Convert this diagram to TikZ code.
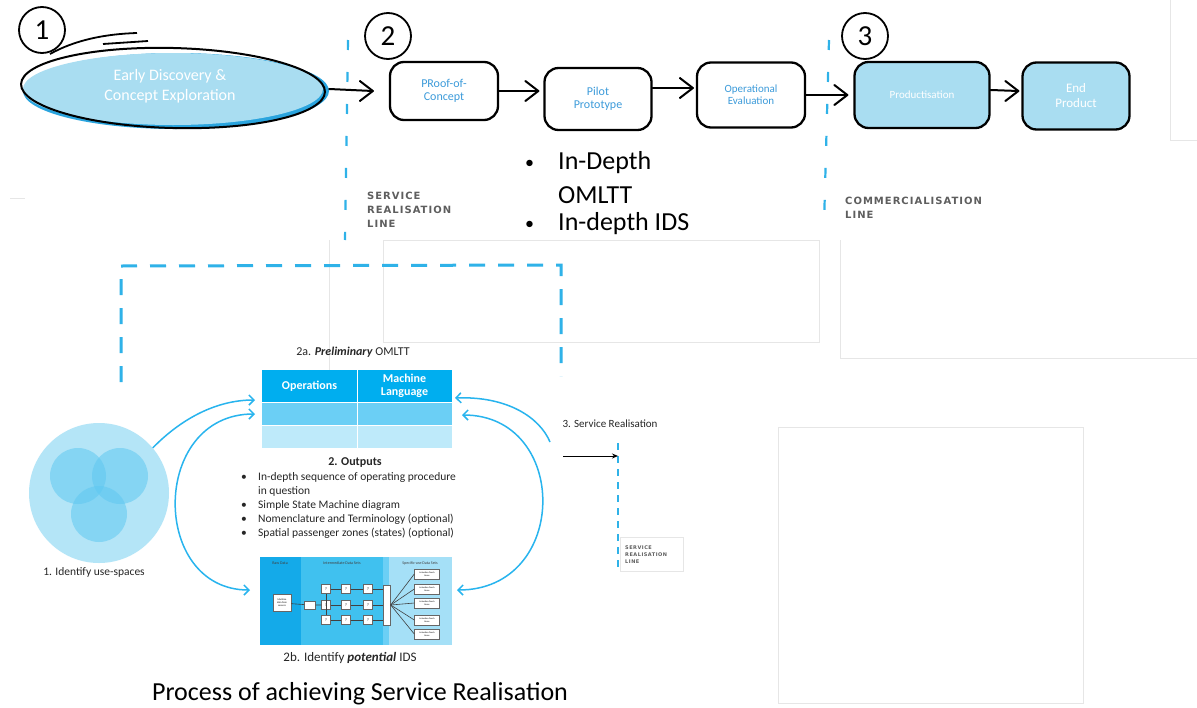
\documentclass[tikz,border=0pt]{standalone}
\usepackage{fontspec}
\setmainfont{Carlito}
\newfontfamily\capsfont[LetterSpace=10]{DejaVu Sans}
\usetikzlibrary{arrows.meta,shapes.geometric}
\definecolor{lightfill}{HTML}{A9DDF1}
\definecolor{edgeblue}{HTML}{2AA4DE}
\definecolor{txtblue}{HTML}{3C9BDA}
\definecolor{dashblue}{HTML}{2FB2E8}
\definecolor{arrowblue}{HTML}{28B4EE}
\definecolor{hdrblue}{HTML}{00AEEF}
\definecolor{rowblue}{HTML}{6BCFF5}
\definecolor{rowpale}{HTML}{BEEAFA}
\definecolor{capgray}{HTML}{5E5E5E}
\definecolor{faint}{HTML}{E6E6E6}
\definecolor{rawblue}{HTML}{14AAE9}
\definecolor{midblue}{HTML}{40C1EF}
\definecolor{specblue}{HTML}{A5E0F7}
\definecolor{vennbig}{HTML}{B4E5F7}
\definecolor{vennsmall}{HTML}{5FC8F1}
\begin{document}
\begin{tikzpicture}[x=1pt,y=-1pt,
  stagebox/.style={draw=black, line width=2.3pt, rounded corners=14pt, fill=white, text=txtblue, align=center, inner sep=0pt, font=\fontsize{12}{13}\selectfont},
  prodbox/.style={stagebox, fill=lightfill, text=white},
  handline/.style={line width=2pt, line cap=round, line join=round},
  numcircle/.style={circle, draw, line width=1.8pt, minimum size=46pt, inner sep=0pt, font=\fontsize{29}{29}\selectfont},
  vdash/.style={draw=dashblue, line width=2.2pt, dash pattern=on 10pt off 22pt},
  capstext/.style={font=\capsfont\bfseries\fontsize{10}{14}\selectfont, text=capgray, align=left, anchor=north west, inner sep=0pt},
  bluearrow/.style={draw=arrowblue, line width=1.5pt, -{Straight Barb[length=5pt,width=10pt]}},
  bluedouble/.style={draw=arrowblue, line width=1.5pt, {Straight Barb[length=5pt,width=10pt]}-{Straight Barb[length=5pt,width=10pt]}},
  smalltext/.style={font=\fontsize{12}{14}\selectfont, text=black!85, inner sep=0pt},
  faintline/.style={draw=faint, line width=0.8pt},
  cell/.style={minimum width=95pt, inner sep=0pt, text=white, align=center, font=\bfseries\fontsize{12}{13}\selectfont},
  tinybox/.style={draw=black!60, fill=white, line width=0.4pt, inner sep=0pt, align=center, font=\fontsize{2.5}{3}\selectfont},
  qbox/.style={draw=black!60, fill=white, line width=0.4pt, inner sep=0pt, minimum width=9pt, minimum height=9pt, font=\fontsize{4}{4}\selectfont},
  idsline/.style={draw=black!75, line width=0.6pt},
  bigtext/.style={anchor=west, font=\fontsize{26}{28}\selectfont, inner sep=0pt},
  bigbullet/.style={anchor=west, font=\fontsize{18}{20}\selectfont, inner sep=0pt}
]
\useasboundingbox (0,0) rectangle (1197,707);
\fill[white] (0,0) rectangle (1197,707);

% faint background artefacts
\draw[faintline] (1170,0) -- (1170,140) -- (1197,140);
\draw[faintline] (10,198) -- (25,198);
\draw[faintline] (329,240) -- (329,420);
\draw[faintline] (383,240) rectangle (819,342);
\draw[faintline] (840,240) -- (840,358) -- (1197,358);
\draw[faintline] (778,427) rectangle (1083,703);
\draw[faintline] (620,537) rectangle (683,571);

% ---------- stage 1 ----------
\node[numcircle] (n1) at (42,30) {1};
\node[ellipse, fill=edgeblue, minimum width=306pt, minimum height=76pt, inner sep=0pt] (ellb) at (176,91) {};
\node[ellipse, fill=lightfill, minimum width=300pt, minimum height=72pt, inner sep=0pt] (ell) at (173,89) {};
\node[ellipse, draw=black, line width=2pt, rotate=-1.5, minimum width=304pt, minimum height=80pt, inner sep=0pt] (ello) at (173,88) {};
\node[text=white, align=center, font=\fontsize{16}{20}\selectfont] (elltxt) at (170,86) {Early Discovery \&\\Concept Exploration};
\draw[line width=1.8pt] (50,54) .. controls (75,40) and (105,34) .. (137,33);
\draw[line width=1.8pt] (103,44) -- (148,41);

% ---------- stage 2 ----------
\node[numcircle] (n2) at (388,36) {2};
\node[stagebox, minimum width=108pt, minimum height=58pt] (poc) at (444,91) {PRoof-of-\\Concept};
\node[stagebox, minimum width=107pt, minimum height=62pt] (pilot) at (598,99) {Pilot\\Prototype};
\node[stagebox, minimum width=108pt, minimum height=65pt, font=\fontsize{11}{12}\selectfont] (opeval) at (751,95) {Operational\\Evaluation};

% ---------- stage 3 ----------
\node[numcircle] (n3) at (865,36) {3};
\node[prodbox, minimum width=135pt, minimum height=66pt, font=\fontsize{11}{12}\selectfont] (prod) at (922,95) {Productisation};
\node[prodbox, minimum width=107pt, minimum height=67pt, font=\fontsize{13}{15}\selectfont] (endp) at (1076,96) {End\\Product};

% hand-drawn arrows (line + chevron head)
\coordinate (a1s) at ([xshift=6pt]ell.east);
\coordinate (a1e) at ([xshift=-16pt]poc.west);
\coordinate (a2e) at ([xshift=-5pt]pilot.west |- poc.east);
\coordinate (a3s) at ([yshift=11pt]pilot.east);
\coordinate (a3e) at ([xshift=-3pt]opeval.west |- a3s);
\coordinate (a4e) at ([xshift=-6pt]prod.west);
\coordinate (a5s) at ([yshift=5pt]prod.east);
\coordinate (a5e) at ([yshift=5pt,xshift=-3pt]endp.west);
\draw[handline] (a1s) -- (a1e);
\draw[handline] ([shift={(-13,-10)}]a1e) -- (a1e) -- ([shift={(-13,10)}]a1e);
\draw[handline] (poc.east) -- (a2e);
\draw[handline] ([shift={(-13,-10)}]a2e) -- (a2e) -- ([shift={(-13,10)}]a2e);
\draw[handline] (a3s) -- (a3e);
\draw[handline] ([shift={(-13,-10)}]a3e) -- (a3e) -- ([shift={(-13,10)}]a3e);
\draw[handline] (opeval.east) -- (a4e);
\draw[handline] ([shift={(-13,-10)}]a4e) -- (a4e) -- ([shift={(-13,10)}]a4e);
\draw[handline] (a5s) -- (a5e);
\draw[handline] ([shift={(-13,-10)}]a5e) -- (a5e) -- ([shift={(-13,10)}]a5e);

% dashed lines
\coordinate (d1t) at (348,40);
\coordinate (d1b) at (345,240);
\coordinate (d2t) at (829,40);
\coordinate (d2b) at (824,225);
\draw[vdash] (d1t) -- (d1b);
\draw[vdash] (d2t) -- (d2b);

\node[capstext] (srl) at (367,192) {SERVICE\\REALISATION\\LINE};
\node[capstext] (cml) at (845,197) {COMMERCIALISATION\\LINE};

% top bullets
\node[bigbullet] (b1) at (525,164) {•};
\node[bigtext] (t1) at (558,163) {In-Depth};
\node[bigtext] (t2) at (558,195) {OMLTT};
\node[bigbullet] (b2) at (525,225) {•};
\node[bigtext] (t3) at (558,224) {In-depth IDS};

% ---------- lower section ----------
\coordinate (bk1) at (121,382);
\coordinate (bk2) at (121,266);
\coordinate (bk3) at (561,265);
\coordinate (bk4) at (561,376);
\draw[draw=dashblue, line width=3pt, dash pattern=on 16pt off 13pt] (bk1) -- (bk2) -- (bk3) -- (bk4);

\node[smalltext, font=\fontsize{12}{14}\selectfont] (lab2a) at (353,352) {2a. \textbf{\textit{Preliminary}} OMLTT};

% table
\node[cell, fill=hdrblue, minimum height=32pt] (th1) at (309.5,386) {Operations};
\node[cell, fill=hdrblue, minimum height=32pt] (th2) at (404.5,386) {Machine\\Language};
\node[cell, fill=rowblue, minimum height=22pt] (r21) at (309.5,414) {};
\node[cell, fill=rowblue, minimum height=22pt] (r22) at (404.5,414) {};
\node[cell, fill=rowpale, minimum height=22pt] (r31) at (309.5,437) {};
\node[cell, fill=rowpale, minimum height=22pt] (r32) at (404.5,437) {};
\draw[white, line width=1.2pt] (th1.north east) -- (r31.south east);
\draw[white, line width=1.2pt] (r21.north west) -- (r22.north east);
\draw[white, line width=1.2pt] (r31.north west) -- (r32.north east);

% venn
\node[circle, fill=vennbig, minimum size=140pt, inner sep=0pt] (venn) at (99,493) {};
\fill[vennsmall, fill opacity=0.55] (78,476) circle (28);
\fill[vennsmall, fill opacity=0.55] (120,476) circle (28);
\fill[vennsmall, fill opacity=0.55] (99,514) circle (28);
\node[smalltext, font=\fontsize{11.5}{14}\selectfont] (lab1) at (94,572) {1. Identify use-spaces};

% outputs
\node[smalltext, font=\bfseries\fontsize{12}{14}\selectfont] (outh) at (355,463) {2. Outputs};
\node[smalltext, anchor=north west, align=left, font=\fontsize{11.5}{14.2}\selectfont] (outl) at (241,472) {%
\makebox[17pt][l]{•}In-depth sequence of operating procedure\\
\makebox[17pt][l]{}in question\\
\makebox[17pt][l]{•}Simple State Machine diagram\\
\makebox[17pt][l]{•}Nomenclature and Terminology (optional)\\
\makebox[17pt][l]{•}Spatial passenger zones (states) (optional)};

% IDS diagram
\fill[rawblue] (260,557) rectangle (301,645);
\fill[midblue] (301,557) rectangle (383,645);
\fill[rowblue] (383,557) rectangle (389,645);
\fill[specblue] (389,557) rectangle (452,645);
\node[text=black!75, font=\fontsize{4}{4}\selectfont, inner sep=0pt] (hraw) at (280,563) {Raw Data};
\node[text=black!75, font=\fontsize{4}{4}\selectfont, inner sep=0pt] (hmid) at (342,563) {Intermediate Data Sets};
\node[text=black!75, font=\fontsize{4}{4}\selectfont, inner sep=0pt] (hspec) at (420,563) {Specific-use Data Sets};
\node[tinybox, minimum width=18pt, minimum height=17pt] (mach) at (282,603) {Machine\\data from\\sensors};
\node[tinybox, minimum width=11pt, minimum height=8pt] (pre) at (310,605) {};
\foreach \r/\yy in {1/589,2/605,3/620}{
  \foreach \c/\xx in {1/326,2/346,3/368}{
    \node[qbox] (q\r\c) at (\xx,\yy) {?};
  }
}
\node[tinybox, minimum width=7pt, minimum height=40pt] (sel) at (387,605) {};
\foreach \k/\yy in {1/574,2/589,3/603,4/620,5/634}{
  \node[tinybox, minimum width=25pt, minimum height=10pt, font=\fontsize{2.3}{2.6}\selectfont] (sp\k) at (427,\yy) {Actuation Touch\\Items};
}
\draw[idsline] (mach) -- (pre) -- (q21);
\draw[idsline] (q11) -- (q31);
\foreach \r in {1,2,3}{
  \draw[idsline] (q\r1) -- (q\r2);
  \draw[idsline] (q\r2) -- (q\r3);
  \draw[idsline] (q\r3) -- (sel.west |- q\r3);
}
\foreach \k in {1,...,5}{
  \draw[idsline] (sel.east) -- (sp\k.west);
}
\node[smalltext, font=\fontsize{13}{15}\selectfont] (lab2b) at (350,658) {2b. Identify \textbf{\textit{potential}} IDS};

% blue curved arrows
\coordinate (la1) at (255,400);
\coordinate (la2) at (255,414);
\coordinate (la3) at (250,590);
\coordinate (ra1) at (455,398);
\coordinate (ra2) at (462,415);
\coordinate (ra3) at (457,590);
\coordinate (rend) at (550,442);
\draw[bluearrow] (venn.40) .. controls (180,420) and (215,400) .. (la1);
\draw[bluedouble] (la2) .. controls (150,414) and (150,590) .. (la3);
\draw[bluearrow] (rend) .. controls (540,418) and (508,396) .. (ra1);
\draw[bluedouble] (ra2) .. controls (570,415) and (570,590) .. (ra3);

% service realisation (lower right)
\node[smalltext, font=\fontsize{11}{13}\selectfont] (lab3) at (610,424) {3. Service Realisation};
\coordinate (sra) at (563,456);
\coordinate (srb) at (618,456);
\coordinate (srtop) at (618,443);
\coordinate (srbot) at (618,568);
\draw[draw=dashblue, line width=1.8pt, dash pattern=on 7pt off 6pt] (srtop) -- (srbot);
\draw[line width=1pt, -{Stealth[length=6pt,width=5pt]}] (sra) -- (srb);
\node[capstext, font=\capsfont\bfseries\fontsize{5}{7}\selectfont] (srl2) at (625,546) {SERVICE\\REALISATION\\LINE};

% caption
\node[font=\fontsize{26}{30}\selectfont, inner sep=0pt] (cap) at (360,694) {Process of achieving Service Realisation};
\end{tikzpicture}
\end{document}
